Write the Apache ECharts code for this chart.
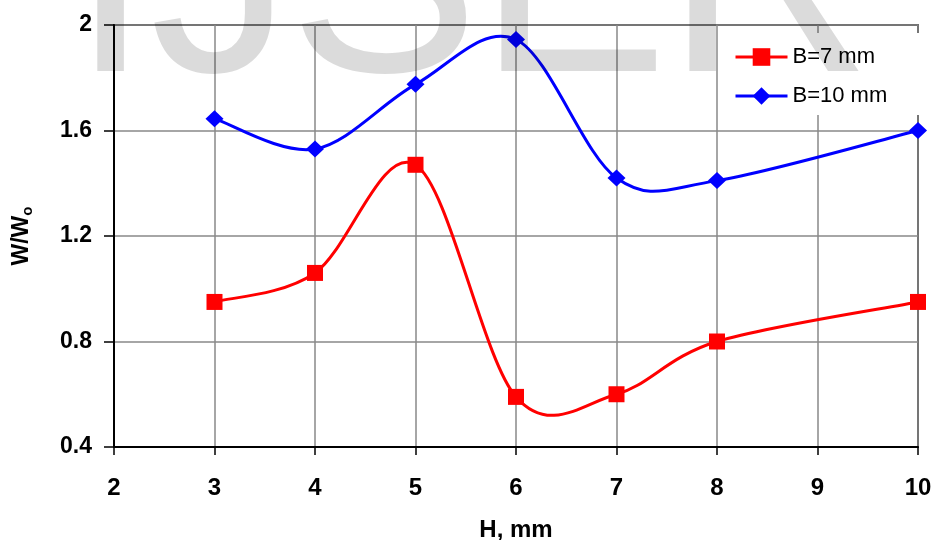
<!DOCTYPE html>
<html>
<head>
<meta charset="utf-8">
<script src="https://cdn.jsdelivr.net/npm/echarts@6/dist/echarts.min.js"></script>
<style>html,body{margin:0;padding:0;background:#fff}#c{width:936px;height:540px}</style>
</head>
<body>
<div id="c"></div>
<script>
const xTicks = [2, 3, 4, 5, 6, 7, 8, 9, 10];
const yTicks = [0.4, 0.8, 1.2, 1.6, 2];
const hValues = [3, 4, 5, 6, 7, 8, 10];
const b7 = [0.95, 1.06, 1.47, 0.59, 0.60, 0.80, 0.95];
const b10 = [1.645, 1.53, 1.775, 1.945, 1.42, 1.41, 1.60];
const seriesNames = ['B=7 mm', 'B=10 mm'];
const seriesColors = ['#ff0000', '#0000ff'];
const watermark = ['I', 'J', 'S', 'E', 'R'];
const watermarkX = [71, 150, 289, 478, 666];

const chart = echarts.init(document.getElementById('c'));
const pair = (xs, ys) => xs.map((x, i) => [x, ys[i]]);
const font = 'Liberation Sans, Arial, sans-serif';

// Smoothed (Catmull-Rom style, like a spreadsheet "smoothed line") curve drawn from the data through the axes
function smoothCurve(ys, color) {
  return {
    type: 'custom', z: 2, silent: true,
    data: pair(hValues, ys),
    encode: { x: 0, y: 1 },
    renderItem: function (params, api) {
      const i = params.dataIndex;
      const n = hValues.length;
      if (i >= n - 1) return null;
      const P = k => api.coord([hValues[Math.max(0, Math.min(n - 1, k))], ys[Math.max(0, Math.min(n - 1, k))]]);
      const p0 = P(i - 1), p1 = P(i), p2 = P(i + 1), p3 = P(i + 2);
      return {
        type: 'bezierCurve',
        shape: {
          x1: p1[0], y1: p1[1], x2: p2[0], y2: p2[1],
          cpx1: p1[0] + (p2[0] - p0[0]) / 6, cpy1: p1[1] + (p2[1] - p0[1]) / 6,
          cpx2: p2[0] - (p3[0] - p1[0]) / 6, cpy2: p2[1] - (p3[1] - p1[1]) / 6
        },
        style: { stroke: color, lineWidth: 3, fill: null }
      };
    }
  };
}

chart.setOption({
  animation: false,
  backgroundColor: '#fff',
  grid: { left: 114, right: 18, top: 25, bottom: 93, outerBoundsMode: 'none', containLabel: false, show: true, borderColor: '#000', borderWidth: 1.5, backgroundColor: 'transparent' },
  legend: {
    orient: 'vertical', left: 723, top: 33,
    backgroundColor: '#fff',
    padding: [13, 32, 8, 11],
    itemWidth: 52, itemHeight: 22, itemGap: 17,
    textStyle: { fontFamily: font, fontSize: 22, color: '#000' },
    data: seriesNames.map((nm, i) => ({ name: nm, lineStyle: { color: seriesColors[i], width: 3, opacity: 1 } }))
  },
  xAxis: {
    type: 'value', min: xTicks[0], max: xTicks[xTicks.length - 1], interval: 1,
    name: 'H, mm', nameLocation: 'middle', nameGap: 71,
    nameTextStyle: { fontFamily: font, fontWeight: 'bold', fontSize: 24, color: '#000' },
    axisLine: { lineStyle: { color: '#000', width: 2 } },
    axisTick: { show: true, length: 8, lineStyle: { color: '#000', width: 1.5 } },
    axisLabel: { fontFamily: font, fontWeight: 'bold', fontSize: 24, color: '#000', margin: 29 },
    splitLine: { show: true, lineStyle: { color: '#888', width: 1.5 } }
  },
  yAxis: {
    type: 'value', min: yTicks[0], max: yTicks[yTicks.length - 1], interval: 0.4,
    name: '{a|W/W}{b|o}', nameLocation: 'middle', nameGap: 79, nameRotate: 90,
    nameTextStyle: {
      rich: {
        a: { fontFamily: font, fontWeight: 'bold', fontSize: 23, color: '#000', lineHeight: 26 },
        b: { fontFamily: font, fontWeight: 'bold', fontSize: 15, color: '#000', lineHeight: 15, verticalAlign: 'bottom' }
      }
    },
    axisLine: { lineStyle: { color: '#000', width: 2 } },
    axisTick: { show: true, length: 10, lineStyle: { color: '#000', width: 1.5 } },
    axisLabel: { fontFamily: font, fontWeight: 'bold', fontSize: 23, color: '#000', margin: 22, formatter: v => String(Math.round(v * 10) / 10) },
    splitLine: { show: true, lineStyle: { color: '#888', width: 1.5 } }
  },
  series: [
    smoothCurve(b7, seriesColors[0]),
    smoothCurve(b10, seriesColors[1]),
    {
      name: seriesNames[0], type: 'line', z: 3,
      data: pair(hValues, b7),
      symbol: 'rect', symbolSize: 16,
      itemStyle: { color: seriesColors[0] },
      lineStyle: { color: seriesColors[0], width: 3, opacity: 0 }
    },
    {
      name: seriesNames[1], type: 'line', z: 3,
      data: pair(hValues, b10),
      symbol: 'diamond', symbolSize: [18, 17],
      itemStyle: { color: seriesColors[1] },
      lineStyle: { color: seriesColors[1], width: 3, opacity: 0 }
    }
  ],
  graphic: watermark.map((ch, i) => ({
    type: 'text', z: 100, silent: true,
    left: watermarkX[i], top: -150,
    style: { text: ch, fontFamily: font, fontSize: 285, fill: 'rgba(0,0,0,0.14)' }
  }))
});
</script>
</body>
</html>
